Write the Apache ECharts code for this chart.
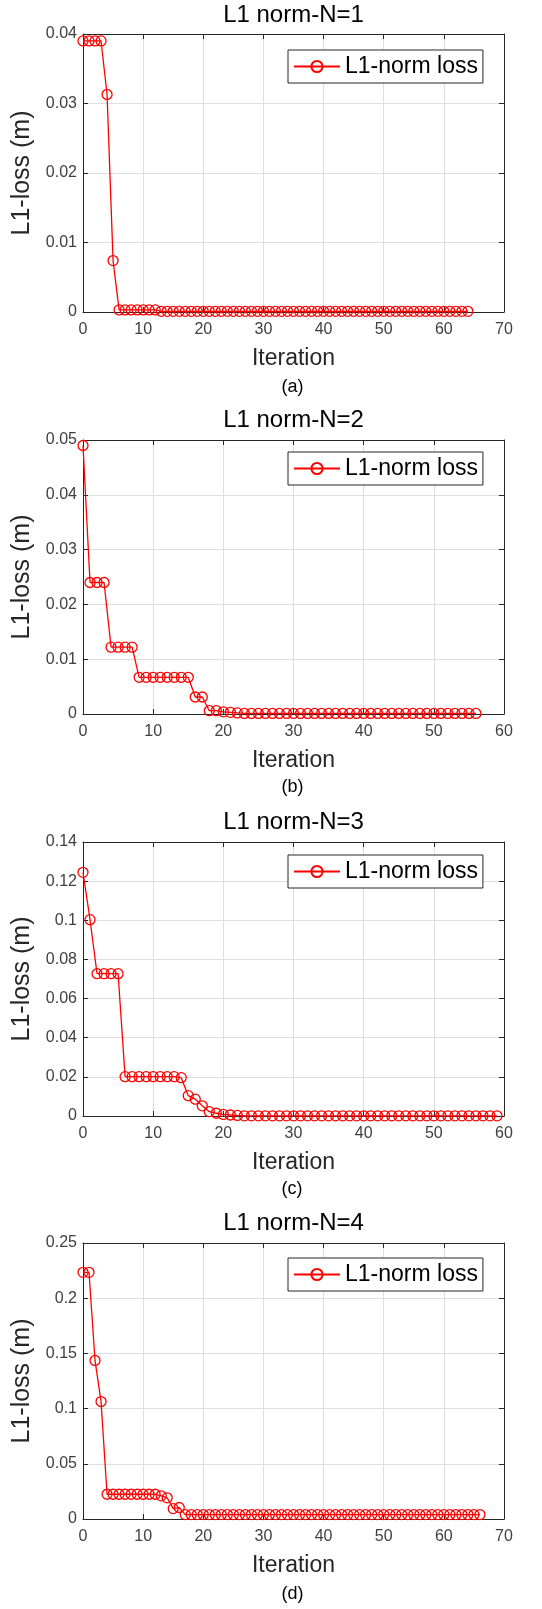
<!DOCTYPE html>
<html>
<head>
<meta charset="utf-8">
<script src="https://cdn.jsdelivr.net/npm/echarts@6/dist/echarts.min.js"></script>
<style>
html,body{margin:0;padding:0;background:#fff;}
#c{width:542px;height:1609px;}
</style>
</head>
<body>
<div id="c"></div>
<script>
// ---- Data ----
const seriesName = 'L1-norm loss';
const titles = ['L1 norm-N=1', 'L1 norm-N=2', 'L1 norm-N=3', 'L1 norm-N=4'];
const captions = ['(a)', '(b)', '(c)', '(d)'];
const xLabel = 'Iteration';
const yLabel = 'L1-loss (m)';

// loss per iteration, iteration = index (0,1,2,...)
const lossN1 = [0.039,0.039,0.039,0.039,0.0313,0.0074,0.0003,0.0003,0.0003,0.0003,
  0.0003,0.0003,0.0003,0.0001,0.0001,0.0001,0.0001,0.0001,0.0001,0.0001,
  0.0001,0.0001,0.0001,0.0001,0.0001,0.0001,0.0001,0.0001,0.0001,0.0001,
  0.0001,0.0001,0.0001,0.0001,0.0001,0.0001,0.0001,0.0001,0.0001,0.0001,
  0.0001,0.0001,0.0001,0.0001,0.0001,0.0001,0.0001,0.0001,0.0001,0.0001,
  0.0001,0.0001,0.0001,0.0001,0.0001,0.0001,0.0001,0.0001,0.0001,0.0001,
  0.0001,0.0001,0.0001,0.0001,0.0001];
const lossN2 = [0.049,0.024,0.024,0.024,0.0122,0.0122,0.0122,0.0122,0.0067,0.0067,
  0.0067,0.0067,0.0067,0.0067,0.0067,0.0067,0.0031,0.0031,0.0006,0.0006,
  0.0004,0.0003,0.0002,0.0001,0.0001,0.0001,0.0001,0.0001,0.0001,0.0001,
  0.0001,0.0001,0.0001,0.0001,0.0001,0.0001,0.0001,0.0001,0.0001,0.0001,
  0.0001,0.0001,0.0001,0.0001,0.0001,0.0001,0.0001,0.0001,0.0001,0.0001,
  0.0001,0.0001,0.0001,0.0001,0.0001,0.0001,0.0001];
const lossN3 = [0.1245,0.1003,0.0727,0.0727,0.0727,0.0727,0.0201,0.0201,0.0201,0.0201,
  0.0201,0.0201,0.0201,0.0201,0.0196,0.0104,0.0086,0.0052,0.0022,0.0014,
  0.0008,0.0005,0.0003,0.0001,0.0001,0.0001,0.0001,0.0001,0.0001,0.0001,
  0.0001,0.0001,0.0001,0.0001,0.0001,0.0001,0.0001,0.0001,0.0001,0.0001,
  0.0001,0.0001,0.0001,0.0001,0.0001,0.0001,0.0001,0.0001,0.0001,0.0001,
  0.0001,0.0001,0.0001,0.0001,0.0001,0.0001,0.0001,0.0001,0.0001,0.0001];
const lossN4 = [0.2234,0.2234,0.1436,0.1064,0.0224,0.0224,0.0224,0.0224,0.0224,0.0224,
  0.0224,0.0224,0.0224,0.0210,0.0192,0.0094,0.0104,0.0040,0.0040,0.0040,
  0.0040,0.0040,0.0040,0.0040,0.0040,0.0040,0.0040,0.0040,0.0040,0.0040,
  0.0040,0.0040,0.0040,0.0040,0.0040,0.0040,0.0040,0.0040,0.0040,0.0040,
  0.0040,0.0040,0.0040,0.0040,0.0040,0.0040,0.0040,0.0040,0.0040,0.0040,
  0.0040,0.0040,0.0040,0.0040,0.0040,0.0040,0.0040,0.0040,0.0040,0.0040,
  0.0040,0.0040,0.0040,0.0040,0.0040,0.0040,0.0040];
const allLoss = [lossN1, lossN2, lossN3, lossN4];

// axis ranges / tick steps
const xMax = [70, 60, 60, 70];
const xStep = [10, 10, 10, 10];
const yMax = [0.04, 0.05, 0.14, 0.25];
const yStep = [0.01, 0.01, 0.02, 0.05];

// ---- Layout ----
const FONT = '"Liberation Sans", Arial, Helvetica, sans-serif';
const gridTop = [34, 440, 842, 1243];
const gridH = [278, 274, 274, 276];
const gridLeft = 83, gridRight = 38;
const centerX = (83 + 504) / 2;
const titleTop = [3, 408, 810, 1211];
const captionY = [388, 788, 1190, 1595];
const legendTop = [50, 452, 855, 1258];

const axisCol = '#262626';
const labelCol = '#404040';
const gridCol = '#dedede';

const option = {
  animation: false,
  backgroundColor: '#fff',
  title: [], grid: [], xAxis: [], yAxis: [], series: [], legend: [],
  graphic: []
};

for (let i = 0; i < 4; i++) {
  option.grid.push({left: gridLeft, right: gridRight, top: gridTop[i], height: gridH[i], containLabel: false});
  option.title.push({
    text: titles[i], left: centerX, top: titleTop[i], textAlign: 'center', padding: 0,
    textStyle: {fontFamily: FONT, fontSize: 24, fontWeight: 'normal', color: '#000'}
  });
  const tickCommon = {show: true, inside: true, length: 5, lineStyle: {color: axisCol, width: 1}};
  // bottom x axis
  option.xAxis.push({
    type: 'value', gridIndex: i, position: 'bottom', min: 0, max: xMax[i], interval: xStep[i],
    name: xLabel, nameLocation: 'middle', nameGap: 35,
    nameTextStyle: {fontFamily: FONT, fontSize: 23, color: '#262626'},
    axisLine: {show: true, onZero: false, lineStyle: {color: axisCol, width: 1}},
    axisTick: tickCommon,
    axisLabel: {fontFamily: FONT, fontSize: 16, color: labelCol, margin: 10},
    splitLine: {show: true, lineStyle: {color: gridCol, width: 1}}
  });
  // top x axis (box + ticks)
  option.xAxis.push({
    type: 'value', gridIndex: i, position: 'top', min: 0, max: xMax[i], interval: xStep[i],
    axisLine: {show: true, onZero: false, lineStyle: {color: axisCol, width: 1}},
    axisTick: tickCommon, axisLabel: {show: false}, splitLine: {show: false}
  });
  // left y axis
  option.yAxis.push({
    type: 'value', gridIndex: i, position: 'left', min: 0, max: yMax[i], interval: yStep[i],
    name: yLabel, nameLocation: 'middle', nameGap: 39, nameRotate: 90,
    nameTextStyle: {fontFamily: FONT, fontSize: 25, color: '#262626'},
    axisLine: {show: true, onZero: false, lineStyle: {color: axisCol, width: 1}},
    axisTick: tickCommon,
    axisLabel: {fontFamily: FONT, fontSize: 16, color: labelCol, margin: 6},
    splitLine: {show: true, lineStyle: {color: gridCol, width: 1}}
  });
  // right y axis
  option.yAxis.push({
    type: 'value', gridIndex: i, position: 'right', min: 0, max: yMax[i], interval: yStep[i],
    axisLine: {show: true, onZero: false, lineStyle: {color: axisCol, width: 1}},
    axisTick: tickCommon, axisLabel: {show: false}, splitLine: {show: false}
  });
  option.series.push({
    name: seriesName, type: 'line', xAxisIndex: 2 * i, yAxisIndex: 2 * i,
    data: allLoss[i].map((v, k) => [k, v]),
    symbol: 'circle', symbolSize: 10, showAllSymbol: true,
    lineStyle: {color: '#ff0000', width: 1.3},
    itemStyle: {color: 'rgba(255,255,255,0)', borderColor: '#ff0000', borderWidth: 1.3},
    emphasis: {disabled: true}
  });
  option.legend.push({
    data: [seriesName], left: 288, top: legendTop[i], orient: 'vertical',
    padding: [5, 5, 5, 5], itemWidth: 46, itemHeight: 14,
    backgroundColor: '#fff', borderColor: axisCol, borderWidth: 1, borderRadius: 0,
    textStyle: {fontFamily: FONT, fontSize: 23, color: '#000'},
    selectedMode: false
  });
  option.graphic.push({
    type: 'text', left: centerX - 12, top: captionY[i] - 10,
    style: {text: captions[i], font: '18px ' + FONT, fill: '#000'}
  });
}

const chart = echarts.init(document.getElementById('c'), null, {renderer: 'canvas'});
chart.setOption(option);
</script>
</body>
</html>
